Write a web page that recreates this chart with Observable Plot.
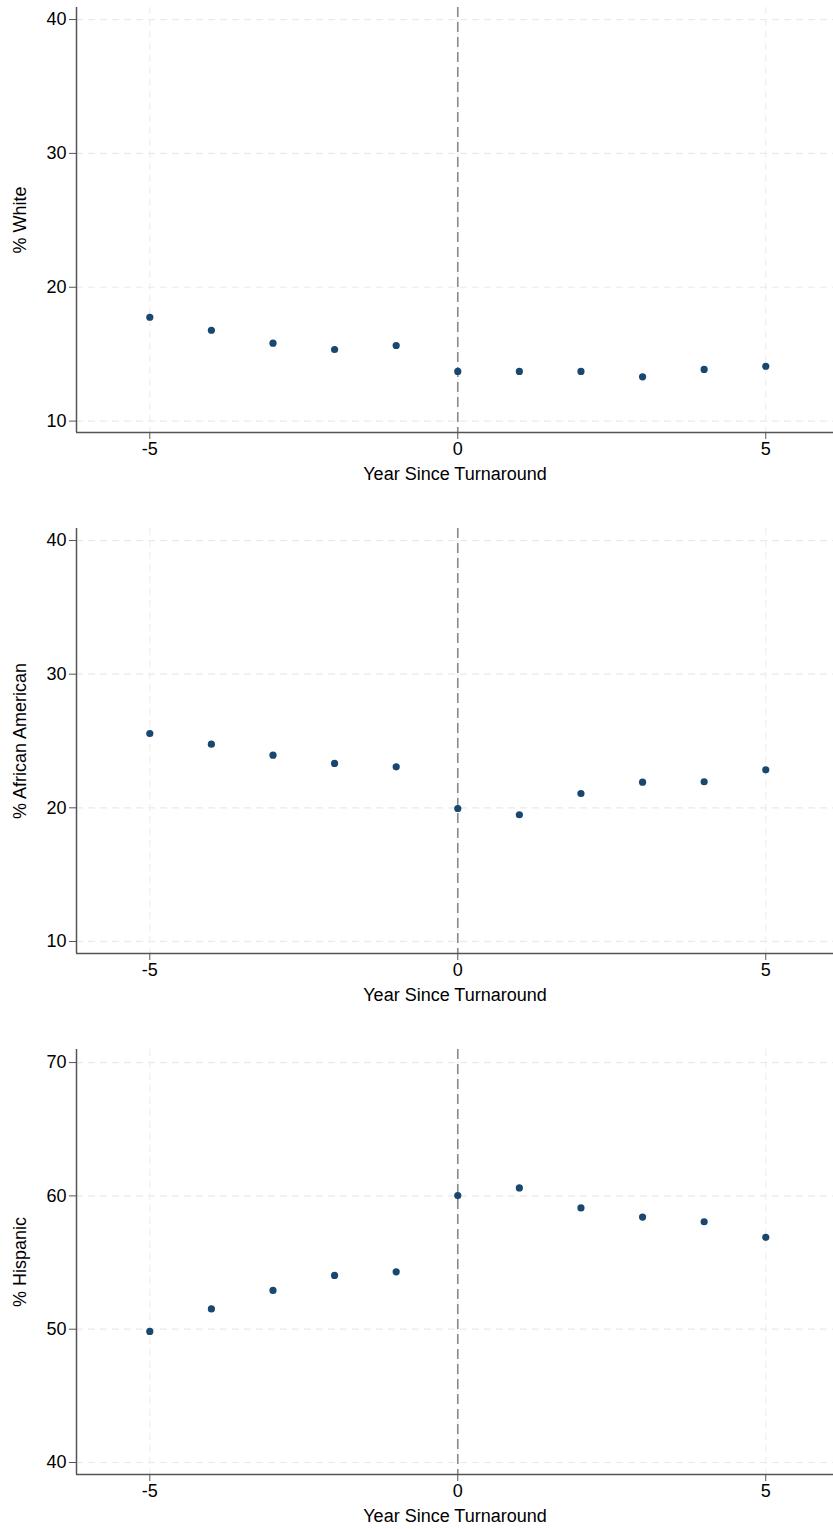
<!DOCTYPE html>
<html>
<head>
<meta charset="utf-8">
<script src="https://cdn.jsdelivr.net/npm/d3@7"></script>
<script src="https://cdn.jsdelivr.net/npm/@observablehq/plot@0.6"></script>
<style>
  html, body { margin: 0; padding: 0; background: #fff; }
  #chart svg { display: block; }
</style>
</head>
<body>
<div id="chart"></div>
<script>
const years = [-5, -4, -3, -2, -1, 0, 1, 2, 3, 4, 5];
const white = [17.76, 16.79, 15.82, 15.35, 15.65, 13.71, 13.71, 13.71, 13.31, 13.86, 14.10];
const africanAmerican = [25.56, 24.76, 23.94, 23.32, 23.07, 19.95, 19.48, 21.07, 21.92, 21.95, 22.84];
const hispanic = [49.83, 51.52, 52.91, 54.03, 54.30, 60.02, 60.60, 59.10, 58.41, 58.06, 56.89];

const xTicks = [-5, 0, 5];
const panelLabels = ["% White", "% African American", "% Hispanic"];
const panelYTicks = [[10, 20, 30, 40], [10, 20, 30, 40], [40, 50, 60, 70]];
const panelYDomains = [[9.15, 40.9], [9.1, 40.9], [39.1, 70.98]];
const panelSeries = [white, africanAmerican, hispanic];
const panelHeights = [521, 521, 487];
const xDomain = [-6.19, 6.1];

const font = "'Liberation Sans', Arial, Helvetica, sans-serif";
const dotColor = "#1a476f";

function panel(i) {
  const data = years.map((yr, j) => ({year: yr, value: panelSeries[i][j]}));
  const yDom = panelYDomains[i];
  const H = panelHeights[i];
  return Plot.plot({
    width: 833,
    height: H,
    marginLeft: 76,
    marginRight: 0,
    marginTop: 7,
    marginBottom: H - 432,
    style: {fontFamily: font, fontSize: "18px", color: "#000", background: "#fff"},
    x: {domain: xDomain},
    y: {domain: yDom},
    marks: [
      Plot.gridY(panelYTicks[i], {stroke: "#eaeaea", strokeOpacity: 1, strokeWidth: 1.2, strokeDasharray: "7,5"}),
      Plot.gridX(xTicks, {stroke: "#eeeeee", strokeOpacity: 1, strokeWidth: 1.2, strokeDasharray: "7,5"}),
      Plot.ruleX([0], {stroke: "#8a8a8a", strokeWidth: 1.6, strokeDasharray: "10,5"}),
      Plot.ruleX([xDomain[0]], {stroke: "#555", strokeWidth: 1.5}),
      Plot.ruleY([yDom[0]], {stroke: "#555", strokeWidth: 1.5}),
      Plot.axisY(panelYTicks[i], {
        tickSize: 7, tickPadding: 3, fontSize: 18, stroke: "#555",
        tickFormat: d => String(d),
        label: panelLabels[i], labelAnchor: "center", labelArrow: "none", labelOffset: 63
      }),
      Plot.axisX(xTicks, {
        tickSize: 7, tickPadding: 3, fontSize: 18, stroke: "#555",
        tickFormat: d => String(d),
        label: "Year Since Turnaround", labelAnchor: "center", labelArrow: "none", labelOffset: 47
      }),
      Plot.dot(data, {x: "year", y: "value", r: 3.6, fill: dotColor, stroke: "none"})
    ]
  });
}

const el = document.getElementById("chart");
for (let i = 0; i < 3; i++) el.appendChild(panel(i));
</script>
</body>
</html>
